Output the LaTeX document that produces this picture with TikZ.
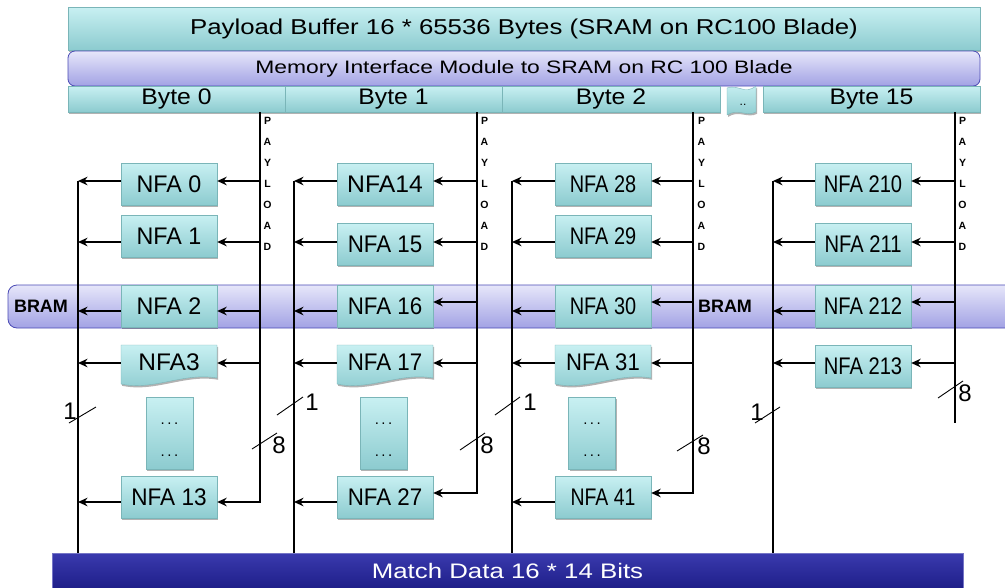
\documentclass[tikz,border=0pt]{standalone}
\usepackage{fontspec}
\usepackage{graphicx}
\setmainfont{Liberation Sans}
\usetikzlibrary{shadows,arrows.meta,calc}
\definecolor{tealT}{HTML}{C8F0F2}
\definecolor{tealB}{HTML}{8CCBCF}
\definecolor{tealD}{HTML}{7AB5B8}
\definecolor{lavT}{HTML}{E6E6FA}
\definecolor{lavB}{HTML}{A2A2E4}
\definecolor{lavD}{HTML}{4B4BB5}
\definecolor{navyT}{HTML}{3A3AAE}
\definecolor{navyB}{HTML}{1E1E88}
\newcommand{\fs}[1]{\fontsize{#1}{#1}\selectfont}
\newcommand{\stx}[2]{\scalebox{#1}[1]{#2}}
\newcommand{\docshape}[2]{%
  \path[tealbox,boxshadow] (#1-48,#2) -- (#1+48,#2) -- (#1+48,#2+33)
    .. controls (#1+15,#2+27) and (#1-15,#2+46) .. (#1-48,#2+39) -- cycle;}
\tikzset{
  boxshadow/.style={drop shadow={shadow xshift=1.2pt,shadow yshift=-1.8pt,fill=black,opacity=0.3}},
  tealbox/.style={top color=tealT,bottom color=tealB,draw=tealD,line width=0.4pt},
  lavbox/.style={top color=lavT,bottom color=lavB,draw=lavD,line width=0.8pt},
  navybox/.style={top color=navyT,bottom color=navyB,draw=navyT!70!white,line width=0.6pt},
  nfa/.style={tealbox,boxshadow,minimum width=96pt,minimum height=42pt,inner sep=0pt,font=\fs{24}},
  nfatxt/.style={minimum width=96pt,minimum height=35pt,inner sep=0pt,font=\fs{24}},
  dotsbox/.style={tealbox,boxshadow,minimum width=47pt,minimum height=72pt,inner sep=0pt},
  dotstxt/.style={font=\fontsize{15}{32}\selectfont,align=center,inner sep=0pt},
  wire/.style={line width=2.5pt},
  arr/.style={line width=2.5pt,-{Stealth[length=9.5pt,width=8.5pt]}},
  tick/.style={line width=0.9pt},
  num/.style={font=\fs{24},inner sep=0pt},
  pl/.style={font=\bfseries\fs{10.5},inner sep=0pt},
  bramlbl/.style={font=\bfseries\fs{18},inner sep=0pt},
}
\begin{document}
\begin{tikzpicture}[x=1pt,y=-1pt]
\useasboundingbox (0,0) rectangle (1005,587);

% BRAM band
\node[lavbox,rounded corners=9pt,minimum width=1012pt,minimum height=43pt] (bram) at (514,306.5) {};
\node[bramlbl] (bl1) at (41,306) {BRAM};
\node[bramlbl] (bl2) at (725,306) {BRAM};

% top bars
\node[tealbox,boxshadow,minimum width=912pt,minimum height=43pt,inner sep=0pt] (pb) at (524,28.5)
  {\fs{21.5}\stx{1.2}{Payload Buffer 16 * 65536 Bytes (SRAM on RC100 Blade)}};
\node[lavbox,rounded corners=7pt,minimum width=912pt,minimum height=35pt,inner sep=0pt] (mi) at (524,68.5)
  {\fs{18}\stx{1.27}{Memory Interface Module to SRAM on RC 100 Blade}};
\node[tealbox,boxshadow,minimum width=217pt,minimum height=26pt,inner sep=0pt] (b0) at (176.5,99) {\fs{22.5}\stx{1.1}{Byte 0}};
\node[tealbox,boxshadow,minimum width=217pt,minimum height=26pt,inner sep=0pt] (b1) at (393.5,99) {\fs{22.5}\stx{1.1}{Byte 1}};
\node[tealbox,boxshadow,minimum width=218pt,minimum height=26pt,inner sep=0pt] (b2) at (611,99) {\fs{22.5}\stx{1.1}{Byte 2}};
\node[tealbox,boxshadow,minimum width=217pt,minimum height=26pt,inner sep=0pt] (b15) at (871.5,99) {\fs{22.5}\stx{1.1}{Byte 15}};
\path[tealbox,boxshadow] (727,88) .. controls (738,84) and (745,95) .. (756,86) -- (756,112)
  .. controls (746,117) and (738,108) .. (727,115) -- cycle;
\node[font=\fs{12},inner sep=0pt] (bdots) at (743,105) {..};

% match data bar
\node[navybox,minimum width=911pt,minimum height=36pt,inner sep=0pt] (md) at (507.5,571)
  {\color{white}\fs{21}\stx{1.23}{Match Data 16 * 14 Bits}};

% coordinates of bus lines
\coordinate (P1) at (b0.south -| 260,0);
\coordinate (P2) at (b1.south -| 477,0);
\coordinate (P3) at (b2.south -| 693,0);
\coordinate (P4) at (b15.south -| 955,0);
\coordinate (M1) at (78,181);
\coordinate (M2) at (294,181);
\coordinate (M3) at (512,181);
\coordinate (M4) at (773,181);
\coordinate (P4end) at (955,423);

% PAYLOAD letters
\foreach \l [count=\i] in {P,A,Y,L,O,A,D} {
  \node[pl] (pla\i) at (267.5,100+21*\i) {\l};
  \node[pl] (plb\i) at (484.5,100+21*\i) {\l};
  \node[pl] (plc\i) at (701.5,100+21*\i) {\l};
  \node[pl] (pld\i) at (962.5,100+21*\i) {\l};
}

% ---------- column 1
\node[nfa] (n0) at (169,184) {\stx{0.97}{NFA 0}};
\node[nfa] (n1) at (169,236) {\stx{0.97}{NFA 1}};
\node[nfa] (n2) at (169,306) {\stx{0.97}{NFA 2}};
\docshape{169}{345}
\node[nfatxt] (n3) at (169,362) {\stx{1.02}{NFA3}};
\node[dotsbox] (d1) at (169.5,433.5) {};
\node[dotstxt] (d1t) at (169.5,440) {.\,.\,.\\.\,.\,.};
\node[nfa] (n13) at (169,497) {\stx{0.94}{NFA 13}};

% ---------- column 2
\node[nfa] (n14) at (385,184) {\stx{1.03}{NFA14}};
\node[nfa] (n15) at (385,244.5) {\stx{0.93}{NFA 15}};
\node[nfa] (n16) at (385,306) {\stx{0.93}{NFA 16}};
\docshape{385}{345}
\node[nfatxt] (n17) at (385,362) {\stx{0.93}{NFA 17}};
\node[dotsbox] (d2) at (383.5,433.5) {};
\node[dotstxt] (d2t) at (383.5,440) {.\,.\,.\\.\,.\,.};
\node[nfa] (n27) at (385,497) {\stx{0.93}{NFA 27}};

% ---------- column 3
\node[nfa] (n28) at (603,184) {\stx{0.83}{NFA 28}};
\node[nfa] (n29) at (603,236) {\stx{0.83}{NFA 29}};
\node[nfa] (n30) at (603,306) {\stx{0.83}{NFA 30}};
\docshape{603}{345}
\node[nfatxt] (n31) at (603,362) {\stx{0.92}{NFA 31}};
\node[dotsbox] (d3) at (592,433.5) {};
\node[dotstxt] (d3t) at (592,440) {.\,.\,.\\.\,.\,.};
\node[nfa] (n41) at (603,497) {\stx{0.81}{NFA 41}};

% ---------- column 4
\node[nfa] (n210) at (863,184) {\stx{0.84}{NFA 210}};
\node[nfa] (n211) at (863,244) {\stx{0.84}{NFA 211}};
\node[nfa] (n212) at (863,306) {\stx{0.84}{NFA 212}};
\node[nfa] (n213) at (863,366.5) {\stx{0.84}{NFA 213}};

% ---------- payload lines and arrows
\draw[arr] (P1) |- (n13.east |- 0,502);
\draw[arr] (P1 |- 0,181) -- (n0.east |- 0,181);
\draw[arr] (P1 |- 0,242) -- (n1.east |- 0,242);
\draw[arr] (P1 |- 0,311) -- (n2.east |- 0,311);
\draw[arr] (P1 |- 0,363) -- (n3.east |- 0,363);

\draw[arr] (P2) |- (n27.east |- 0,493);
\draw[arr] (P2 |- 0,181) -- (n14.east |- 0,181);
\draw[arr] (P2 |- 0,242) -- (n15.east |- 0,242);
\draw[arr] (P2 |- 0,302) -- (n16.east |- 0,302);
\draw[arr] (P2 |- 0,363) -- (n17.east |- 0,363);

\draw[arr] (P3) |- (n41.east |- 0,493);
\draw[arr] (P3 |- 0,181) -- (n28.east |- 0,181);
\draw[arr] (P3 |- 0,242) -- (n29.east |- 0,242);
\draw[arr] (P3 |- 0,302) -- (n30.east |- 0,302);
\draw[arr] (P3 |- 0,363) -- (n31.east |- 0,363);

\draw[wire] (P4) -- (P4end);
\draw[arr] (P4 |- 0,181) -- (n210.east |- 0,181);
\draw[arr] (P4 |- 0,242) -- (n211.east |- 0,242);
\draw[arr] (P4 |- 0,302) -- (n212.east |- 0,302);
\draw[arr] (P4 |- 0,363) -- (n213.east |- 0,363);

% ---------- match lines and arrows
\draw[wire] (M1) -- (md.north -| M1);
\draw[arr] (n0.west |- 0,181) -- (M1);
\draw[arr] (n1.west |- 0,242) -- (M1 |- 0,242);
\draw[arr] (n2.west |- 0,311) -- (M1 |- 0,311);
\draw[arr] (n3.west |- 0,363) -- (M1 |- 0,363);
\draw[arr] (n13.west |- 0,502) -- (M1 |- 0,502);

\draw[wire] (M2) -- (md.north -| M2);
\draw[arr] (n14.west |- 0,181) -- (M2);
\draw[arr] (n15.west |- 0,242) -- (M2 |- 0,242);
\draw[arr] (n16.west |- 0,311) -- (M2 |- 0,311);
\draw[arr] (n17.west |- 0,363) -- (M2 |- 0,363);
\draw[arr] (n27.west |- 0,502) -- (M2 |- 0,502);

\draw[wire] (M3) -- (md.north -| M3);
\draw[arr] (n28.west |- 0,181) -- (M3);
\draw[arr] (n29.west |- 0,242) -- (M3 |- 0,242);
\draw[arr] (n30.west |- 0,311) -- (M3 |- 0,311);
\draw[arr] (n31.west |- 0,363) -- (M3 |- 0,363);
\draw[arr] (n41.west |- 0,502) -- (M3 |- 0,502);

\draw[wire] (M4) -- (md.north -| M4);
\draw[arr] (n210.west |- 0,181) -- (M4);
\draw[arr] (n211.west |- 0,242) -- (M4 |- 0,242);
\draw[arr] (n212.west |- 0,311) -- (M4 |- 0,311);
\draw[arr] (n213.west |- 0,363) -- (M4 |- 0,363);

% ---------- bus width marks
\draw[tick] (69,423) -- (96,407);   \node[num] (w1a) at (70,411) {1};
\draw[tick] (252,449) -- (277,433); \node[num] (w1b) at (279,445) {8};
\draw[tick] (277,415) -- (303,397); \node[num] (w2a) at (312,402) {1};
\draw[tick] (460,450) -- (485,433); \node[num] (w2b) at (487,445) {8};
\draw[tick] (495,415) -- (520,397); \node[num] (w3a) at (530,402) {1};
\draw[tick] (677,451) -- (703,435); \node[num] (w3b) at (704,446) {8};
\draw[tick] (755,423) -- (780,407); \node[num] (w4a) at (757,412) {1};
\draw[tick] (938,398) -- (963,381); \node[num] (w4b) at (965,393) {8};
\end{tikzpicture}
\end{document}
